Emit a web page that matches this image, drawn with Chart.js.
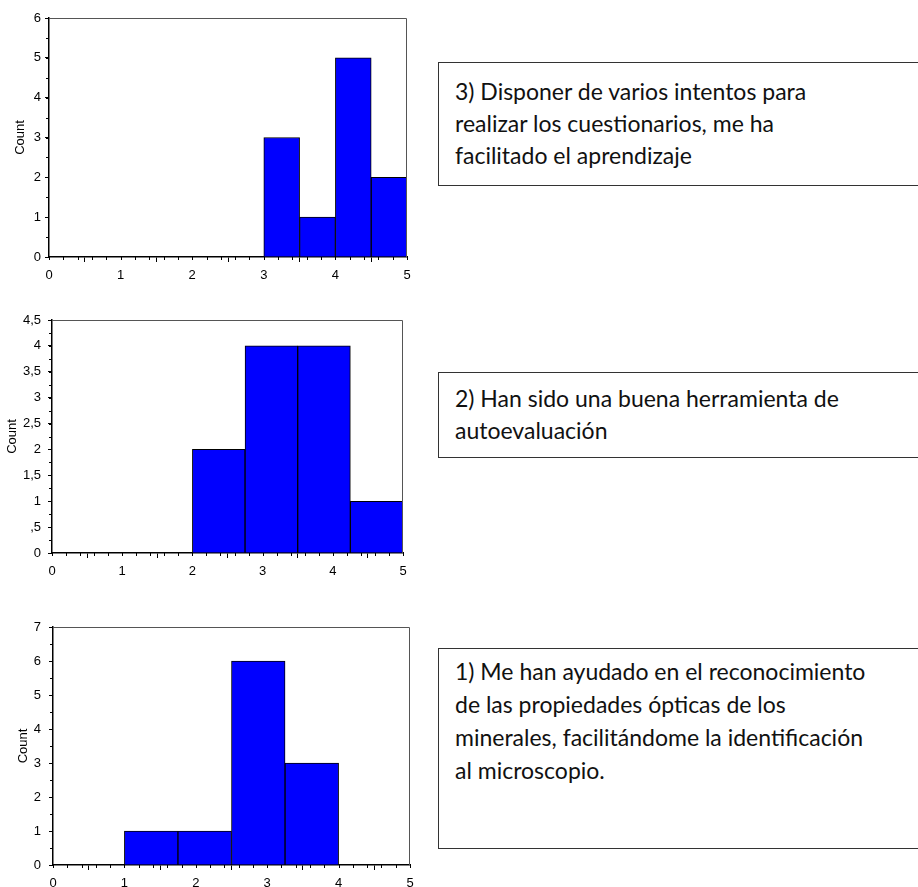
<!DOCTYPE html>
<html>
<head>
<meta charset="utf-8">
<script src="https://cdn.jsdelivr.net/npm/chart.js@4.4.1/dist/chart.umd.min.js"></script>
<style>
  body { margin: 0; background: #fff; width: 918px; height: 887px; overflow: hidden; position: relative; }
  canvas { position: absolute; left: 0; }
  .box {
    position: absolute; left: 438px; width: 520px; box-sizing: border-box;
    border: 1.5px solid #333; padding-left: 16px;
    font-family: "Lato", sans-serif; font-size: 23px; line-height: 32px; color: #111;
  }
</style>
</head>
<body>
<canvas id="chart3" width="420" height="290" style="top:0px"></canvas>
<canvas id="chart2" width="420" height="300" style="top:290px"></canvas>
<canvas id="chart1" width="420" height="287" style="top:600px"></canvas>

<div class="box" style="top:62px;height:124px;padding-top:12px">3) Disponer de varios intentos para<br>realizar los cuestionarios, me ha<br>facilitado el aprendizaje</div>
<div class="box" style="top:372px;height:86px;padding-top:9px">2) Han sido una buena herramienta de<br>autoevaluación</div>
<div class="box" style="top:648px;height:201px;padding-top:6px;line-height:33px">1) Me han ayudado en el reconocimiento<br>de las propiedades ópticas de los<br>minerales, facilitándome la identificación<br>al microscopio.</div>

<script>
// histogram bins (edges) and counts, question 3 / 2 / 1
const edges3 = [3, 3.5, 4, 4.5, 5];
const counts3 = [3, 1, 5, 2];
const edges2 = [2, 2.75, 3.5, 4.25, 5];
const counts2 = [2, 4, 4, 1];
const edges1 = [1, 1.75, 2.5, 3.25, 4];
const counts1 = [1, 1, 6, 3];

const xTickLabels = ['0', '1', '2', '3', '4', '5'];
const yTickLabels3 = ['0', '1', '2', '3', '4', '5', '6'];
const yTickLabels2 = ['0', ',5', '1', '1,5', '2', '2,5', '3', '3,5', '4', '4,5'];
const yTickLabels1 = ['0', '1', '2', '3', '4', '5', '6', '7'];

// small extra ticks between the labelled ones
const minorTicks = {
  id: 'minorTicks',
  afterDraw(chart, args, opts) {
    const ctx = chart.ctx;
    const xs = chart.scales.x, ys = chart.scales.y;
    const a = chart.chartArea;
    ctx.save();
    ctx.strokeStyle = '#000';
    ctx.lineWidth = 1;
    ctx.beginPath();
    for (let v = xs.min; v <= xs.max + 1e-9; v += opts.x) {
      const px = Math.round(xs.getPixelForValue(v)) + 0.5;
      ctx.moveTo(px, a.bottom);
      ctx.lineTo(px, a.bottom + 3);
    }
    for (let v = ys.min; v <= ys.max + 1e-9; v += opts.y) {
      const py = Math.round(ys.getPixelForValue(v)) + 0.5;
      ctx.moveTo(a.left, py);
      ctx.lineTo(a.left - 3, py);
    }
    ctx.stroke();
    // thin frame on top and right
    ctx.strokeStyle = '#555';
    ctx.beginPath();
    ctx.moveTo(a.left, a.top + 0.5);
    ctx.lineTo(a.right - 0.5, a.top + 0.5);
    ctx.lineTo(a.right - 0.5, a.bottom);
    ctx.stroke();
    ctx.restore();
  }
};

function makeHist(canvas, edges, counts, yMax, yStep, yLabels, box) {
  const pts = counts.map((c, i) => ({ x: (edges[i] + edges[i + 1]) / 2, y: c }));
  return new Chart(canvas.getContext('2d'), {
    type: 'bar',
    data: {
      datasets: [{
        data: pts,
        backgroundColor: '#0000ff',
        borderColor: '#000',
        borderWidth: 1,
        barThickness: 'flex',
        barPercentage: 1,
        categoryPercentage: 1
      }]
    },
    options: {
      responsive: false,
      animation: false,
      layout: { padding: { top: box.top, right: box.right, left: 0, bottom: 0 } },
      plugins: {
        legend: { display: false },
        tooltip: { enabled: false },
        minorTicks: { x: 0.2, y: yStep / 2 }
      },
      scales: {
        x: {
          type: 'linear',
          offset: false,
          min: 0,
          max: 5,
          afterFit: s => { s.height = box.xHeight; },
          ticks: {
            stepSize: 1,
            color: '#000',
            padding: 6,
            font: { family: 'Liberation Sans', size: 13 },
            maxRotation: 0,
            callback: (v, i) => xTickLabels[i]
          },
          grid: { drawOnChartArea: false, tickLength: 5, color: '#000' },
          border: { color: '#000', width: 1.5 }
        },
        y: {
          min: 0,
          max: yMax,
          afterFit: s => { s.width = box.left; },
          ticks: {
            stepSize: yStep,
            color: '#000',
            padding: box.yPad,
            font: { family: 'Liberation Sans', size: 13 },
            callback: (v, i) => yLabels[i]
          },
          title: {
            display: true,
            text: 'Count',
            color: '#000',
            font: { family: 'Liberation Sans', size: 13 },
            padding: { top: box.titlePad, bottom: 0 }
          },
          grid: { drawOnChartArea: false, tickLength: 4, color: '#000' },
          border: { color: '#000', width: 1.5 }
        }
      }
    },
    plugins: [minorTicks]
  });
}

makeHist(document.getElementById('chart3'), edges3, counts3, 6, 1, yTickLabels3,
  { top: 18, right: 13, left: 49, xHeight: 33, titlePad: 13, yPad: 4 });
makeHist(document.getElementById('chart2'), edges2, counts2, 4.5, 0.5, yTickLabels2,
  { top: 30, right: 17, left: 52, xHeight: 37, titlePad: 5, yPad: 7 });
makeHist(document.getElementById('chart1'), edges1, counts1, 7, 1, yTickLabels1,
  { top: 27, right: 10, left: 53, xHeight: 22, titlePad: 16, yPad: 8 });
</script>
</body>
</html>
